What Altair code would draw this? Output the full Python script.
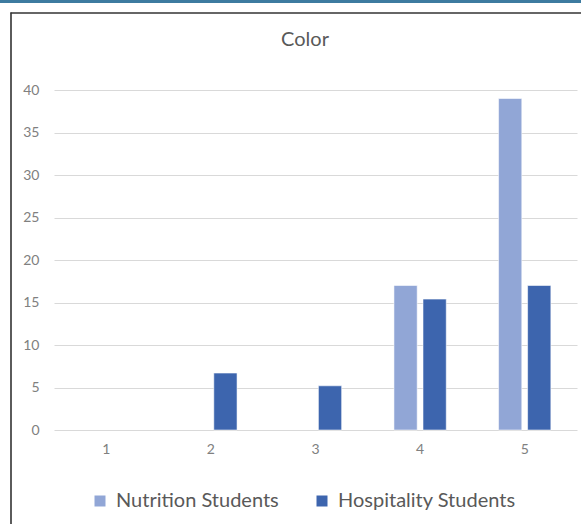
import altair as alt
import pandas as pd

# Survey responses per rating, by student group
ratings = ["1", "2", "3", "4", "5"]
nutrition = [0, 0, 0, 17, 39]
hospitality = [0, 6.7, 5.2, 15.4, 17]
groups = ["Nutrition Students", "Hospitality Students"]
colors = ["#91A6D6", "#3D65AE"]
chart_title = "Color"

rows = []
for i, r in enumerate(ratings):
    rows.append({"rating": r, "group": groups[0], "value": nutrition[i]})
    rows.append({"rating": r, "group": groups[1], "value": hospitality[i]})
df = pd.DataFrame(rows)

FONT = "Lato"
AXIS_GRAY = "#808080"
TEXT_GRAY = "#595959"

bars = (
    alt.Chart(df)
    .transform_filter(alt.datum.value > 0)
    .mark_bar(stroke="white", strokeWidth=1, strokeOpacity=0.55)
    .encode(
        x=alt.X(
            "rating:N",
            sort=ratings,
            title=None,
            scale=alt.Scale(domain=ratings, paddingInner=0.5, paddingOuter=0.25),
            axis=alt.Axis(
                labelAngle=0,
                ticks=False,
                domain=False,
                labelPadding=12,
                labelFontSize=14,
                labelColor=AXIS_GRAY,
                labelFont=FONT,
            ),
        ),
        xOffset=alt.XOffset(
            "group:N", sort=groups, scale=alt.Scale(domain=groups, paddingInner=0.2)
        ),
        y=alt.Y(
            "value:Q",
            title=None,
            scale=alt.Scale(domain=[0, 40]),
            axis=alt.Axis(
                values=list(range(0, 41, 5)),
                ticks=False,
                domain=False,
                labelPadding=15,
                labelFontSize=14,
                labelColor=AXIS_GRAY,
                labelFont=FONT,
                gridColor="#D9D9D9",
                gridWidth=1.2,
            ),
        ),
        color=alt.Color(
            "group:N",
            sort=groups,
            scale=alt.Scale(domain=groups, range=colors),
            legend=alt.Legend(
                title=None,
                orient="none",
                direction="horizontal",
                legendX=36,
                legendY=401,
                symbolType="square",
                symbolSize=121,
                symbolStrokeWidth=0,
                symbolOpacity=1,
                labelFontSize=20,
                labelColor=TEXT_GRAY,
                labelFont=FONT,
                labelOffset=6,
                labelLimit=400,
                columnPadding=33,
            ),
        ),
    )
)

frame = pd.DataFrame({"label": [chart_title]})

# Chart title, centred over the chart area
title = alt.Chart(frame).mark_text(
    font=FONT, fontSize=20, color=TEXT_GRAY, align="center", baseline="alphabetic"
).encode(text="label:N", x=alt.value(251), y=alt.value(-44))

# Outer frame of the chart area and the blue strip above it
top_strip = alt.Chart(frame).mark_rule(color="#3D7BA0", strokeWidth=3).encode(
    x=alt.value(-60), x2=alt.value(540), y=alt.value(-88.5)
)
frame_top = alt.Chart(frame).mark_rule(color="#333333", strokeWidth=1.6).encode(
    x=alt.value(-43.5), x2=alt.value(540), y=alt.value(-77)
)
frame_left = alt.Chart(frame).mark_rule(color="#333333", strokeWidth=1.6).encode(
    x=alt.value(-43), y=alt.value(-77.5), y2=alt.value(500)
)

chart = (
    alt.layer(bars, title, top_strip, frame_top, frame_left)
    .resolve_scale(color="independent")
    .properties(
        width=523,
        height=340,
        autosize=alt.AutoSizeParams(type="none"),
        padding={"left": 54, "top": 90, "right": 4, "bottom": 94},
        background="white",
    )
    .configure_view(stroke=None)
)

chart.save("out.html", embed_options={"renderer": "svg", "actions": False})
